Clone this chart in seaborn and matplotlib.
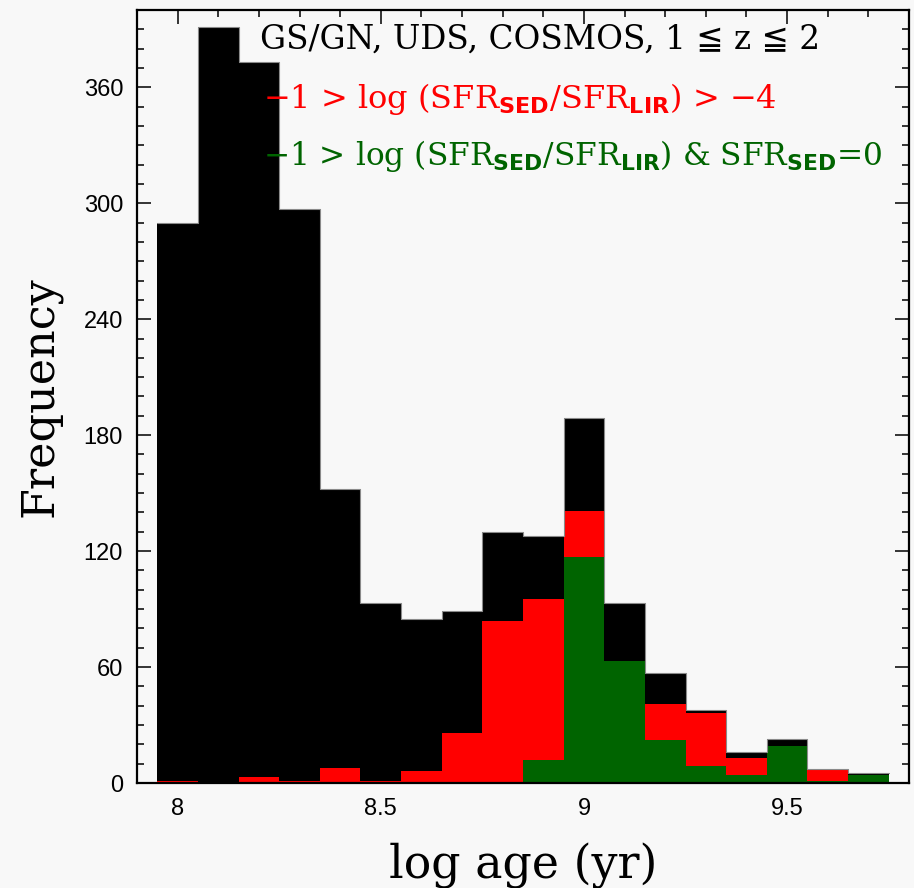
import numpy as np
import pandas as pd
import matplotlib
matplotlib.use("Agg")
import matplotlib.pyplot as plt
from matplotlib.ticker import MultipleLocator
import seaborn as sns

# histogram bin edges in log age (yr)
age_edges = [7.95, 8.05, 8.15, 8.25, 8.35, 8.45, 8.55, 8.65, 8.75, 8.85,
             8.95, 9.05, 9.15, 9.25, 9.35, 9.45, 9.55, 9.65, 9.75]

# counts per bin
all_counts = [290, 391, 373, 297, 152, 93, 85, 89, 130, 128,
              189, 93, 57, 38, 16, 23, 7, 5]
red_counts = [1, 0, 3, 1, 8, 1, 6, 26, 84, 95,
              141, 63, 41, 36, 13, 19, 7, 4]
green_counts = [0, 0, 0, 0, 0, 0, 0, 0, 0, 12,
                117, 63, 22, 9, 4, 19, 1, 4]

x_ticks = [8, 8.5, 9, 9.5]
x_tick_labels = ["8", "8.5", "9", "9.5"]
y_ticks = [0, 60, 120, 180, 240, 300, 360]
y_tick_labels = ["0", "60", "120", "180", "240", "300", "360"]

title_line = "GS/GN, UDS, COSMOS, 1 \u2266 z \u2266 2"
red_line = "\u22121 > log (SFR$_\\mathbf{SED}$/SFR$_\\mathbf{LIR}$) > \u22124"
green_line = "\u22121 > log (SFR$_\\mathbf{SED}$/SFR$_\\mathbf{LIR}$) & SFR$_\\mathbf{SED}$=0"

sns.set_style("ticks")
plt.rcParams["font.family"] = ["DejaVu Serif", "DejaVu Sans"]
plt.rcParams["mathtext.fontset"] = "custom"
plt.rcParams["mathtext.bf"] = "DejaVu Sans:bold"
plt.rcParams["mathtext.rm"] = "DejaVu Serif"
plt.rcParams["text.color"] = "black"
plt.rcParams["axes.labelcolor"] = "black"
plt.rcParams["xtick.color"] = "black"
plt.rcParams["ytick.color"] = "black"

bg = "#f8f8f8"
fig = plt.figure(figsize=(9.14, 8.88), dpi=100, facecolor=bg)
ax = fig.add_axes([137 / 914, 1 - 783 / 888, 772 / 914, 773 / 888])
ax.set_facecolor(bg)

centres = [(a + b) / 2 for a, b in zip(age_edges[:-1], age_edges[1:])]
df = pd.DataFrame({"age": centres, "all": all_counts,
                   "red": red_counts, "green": green_counts})

# total sample in black, with a thin grey outline, then the two subsets on top
sns.histplot(data=df, x="age", weights="all", bins=age_edges, element="step",
             fill=True, color="black", alpha=1, linewidth=0, ax=ax)
sns.histplot(data=df, x="age", weights="all", bins=age_edges, element="step",
             fill=False, color="#8a8a8a", linewidth=0.8, ax=ax)
sns.histplot(data=df, x="age", weights="red", bins=age_edges, element="step",
             fill=True, color="#ff0000", alpha=1, linewidth=0, ax=ax)
sns.histplot(data=df, x="age", weights="green", bins=age_edges, element="step",
             fill=True, color="#006400", alpha=1, linewidth=0, ax=ax)

ax.set_xlim(7.9, 9.8)
ax.set_ylim(0, 400)
ax.set_axisbelow(True)

ax.set_xticks(x_ticks)
ax.set_xticklabels(x_tick_labels, family="Liberation Sans", fontsize=17)
ax.set_yticks(y_ticks)
ax.set_yticklabels(y_tick_labels, family="Liberation Sans", fontsize=17)
ax.xaxis.set_minor_locator(MultipleLocator(0.1))
ax.yaxis.set_minor_locator(MultipleLocator(10))
ax.tick_params(which="both", direction="in", top=True, right=True,
               color="black", labelcolor="black", width=1.1)
ax.tick_params(which="major", length=10)
ax.tick_params(which="minor", length=5)
ax.tick_params(axis="x", which="major", pad=11)
ax.tick_params(axis="y", which="major", pad=10)
for sp in ax.spines.values():
    sp.set_linewidth(1.6)
    sp.set_color("black")

ax.set_xlabel("log age (yr)", fontsize=33, labelpad=16)
ax.set_ylabel("Frequency", fontsize=32, labelpad=16)

ax.text(0.159, 0.9495, title_line, transform=ax.transAxes, fontsize=23.5,
        color="black", va="baseline", ha="left")
ax.text(0.163, 0.8732, red_line, transform=ax.transAxes, fontsize=23,
        color="#ff0000", va="baseline", ha="left")
ax.text(0.163, 0.7995, green_line, transform=ax.transAxes, fontsize=22.5,
        color="#006400", va="baseline", ha="left")

fig.savefig("out.png", dpi=100, facecolor=bg)
